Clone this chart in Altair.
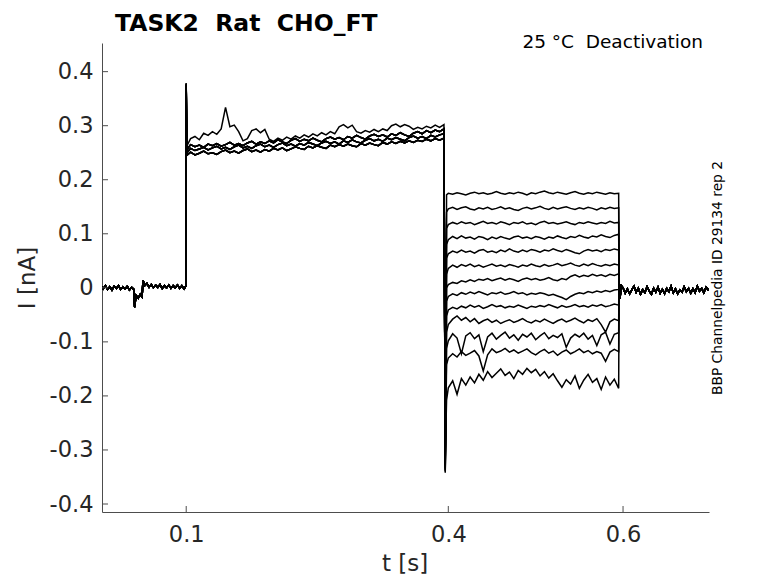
import altair as alt
import pandas as pd

# ---------------- data ----------------
# pre-step baseline (shared by all sweeps)
T0 = [0.0025, 0.005, 0.0075, 0.01, 0.0125, 0.015, 0.0175, 0.02, 0.0225, 0.025,
      0.0275, 0.03, 0.0325, 0.035, 0.0375, 0.04, 0.041, 0.0425, 0.045, 0.0475,
      0.0495, 0.0505, 0.0525, 0.055, 0.0575, 0.06, 0.0625, 0.065, 0.0675, 0.07,
      0.0725, 0.075, 0.0775, 0.08, 0.0825, 0.085, 0.0875, 0.09, 0.0925, 0.095,
      0.0975, 0.0995]
I0 = [.003, -.002, .004, -.003, .002, -.004, .003, -.001, .004, -.003,
      .002, -.002, .003, -.004, .001, -.003, -.036, -.014, -.019, -.012,
      -.017, .014, .004, .008, .001, .006, .000, .005, .001, .006,
      -.001, .004, .000, .005, -.001, .004, .000, .005, -.001, .004,
      -.002, .003]

# first voltage step (0.1 .. 0.396 s)
T1 = [0.1, 0.1006,
      .105, .11, .115, .12, .125, .13, .135, .14, .145, .15, .155, .16, .165, .17,
      .175, .18, .185, .19, .195, .2, .205, .21, .215, .22, .225, .23, .235, .24,
      .245, .25, .255, .26, .265, .27, .275, .28, .285, .29, .295, .3, .305, .31,
      .315, .32, .325, .33, .335, .34, .345, .35, .355, .36, .365, .37, .375, .38,
      .385, .39, .395]
HEAD1 = {"a": [.378, .245], "b": [.372, .250], "c": [.375, .255], "d": [.370, .262]}
STEP1 = {
    "a": [.251, .246, .249, .253, .248, .250, .247, .252, .255, .250,
          .253, .249, .254, .257, .252, .255, .251, .256, .253, .258,
          .255, .259, .254, .257, .261, .258, .256, .262, .259, .263,
          .260, .258, .264, .261, .265, .262, .266, .263, .261, .267,
          .264, .268, .265, .263, .269, .266, .270, .267, .271, .268,
          .272, .269, .273, .271, .275, .272, .276, .273, .277],
    "b": [.258, .254, .257, .260, .255, .259, .262, .257, .260, .256,
          .261, .264, .259, .262, .258, .263, .266, .261, .264, .260,
          .265, .268, .263, .266, .262, .267, .264, .269, .266, .263,
          .268, .271, .267, .270, .266, .272, .269, .274, .270, .268,
          .273, .276, .272, .275, .271, .277, .274, .278, .275, .272,
          .278, .281, .277, .280, .276, .282, .279, .283, .285],
    "c": [.265, .261, .264, .260, .266, .263, .267, .262, .265, .269,
          .264, .267, .263, .268, .271, .266, .270, .267, .272, .268,
          .274, .270, .267, .273, .276, .271, .275, .272, .277, .273,
          .270, .276, .279, .275, .278, .274, .280, .277, .282, .278,
          .275, .281, .284, .280, .283, .279, .285, .282, .287, .283,
          .280, .286, .289, .285, .291, .287, .292, .289, .294],
    "d": [.276, .280, .274, .286, .282, .289, .284, .294, .334, .298,
          .301, .289, .272, .276, .291, .294, .287, .293, .275, .271,
          .277, .273, .279, .275, .281, .277, .283, .279, .285, .281,
          .287, .283, .289, .285, .298, .302, .296, .301, .289, .286,
          .291, .288, .293, .289, .294, .291, .300, .303, .298, .302,
          .299, .293, .297, .294, .299, .296, .301, .297, .302],
}
VARIANT = ["a", "b", "c", "a", "d", "b", "c", "a", "b", "c", "a", "b", "c"]

# second (deactivation) step (0.396 .. 0.595 s)
T2 = [0.3965, 0.398,
      .4, .405, .41, .415, .42, .425, .43, .435, .44, .445, .45, .455, .46, .465,
      .47, .475, .48, .485, .49, .495, .5, .505, .51, .515, .52, .525, .53, .535,
      .54, .545, .55, .555, .56, .565, .57, .575, .58, .585, .59, .595]
SPIKE2 = [-.300, -.310, -.318, -.325, -.330, -.334, -.338, -.340, -.342, -.336, -.328, -.320, -.312]
STEP2 = [
    [.172, .175, .173, .176, .174, .172, .175, .177, .174, .176, .173, .175, .178, .175,
     .173, .176, .174, .177, .175, .172, .176, .174, .177, .179, .176, .174, .177, .175,
     .173, .176, .178, .175, .173, .176, .174, .177, .175, .173, .176, .174, .175],
    [.140, .146, .149, .145, .148, .150, .146, .144, .148, .146, .149, .145, .147, .150,
     .146, .148, .145, .143, .147, .149, .146, .148, .151, .147, .145, .149, .146, .148,
     .150, .147, .145, .148, .146, .149, .147, .144, .148, .146, .149, .147, .148],
    [.110, .117, .121, .118, .122, .119, .121, .117, .120, .123, .119, .121, .118, .122,
     .120, .117, .121, .119, .122, .118, .120, .117, .121, .123, .119, .121, .118, .120,
     .122, .119, .117, .121, .119, .122, .120, .118, .121, .119, .123, .120, .121],
    [.080, .089, .095, .091, .096, .092, .094, .090, .095, .093, .089, .094, .091, .095,
     .092, .090, .094, .096, .092, .094, .091, .095, .093, .090, .094, .092, .096, .093,
     .091, .095, .093, .097, .094, .092, .096, .094, .098, .095, .093, .097, .099],
    [.055, .063, .068, .065, .070, .066, .068, .064, .069, .071, .066, .068, .065, .070,
     .067, .072, .068, .066, .070, .067, .071, .069, .066, .070, .068, .072, .069, .067,
     .071, .068, .065, .063, .068, .071, .068, .070, .067, .071, .069, .072, .070],
    [.025, .036, .042, .038, .043, .040, .044, .039, .042, .038, .041, .044, .040, .042,
     .039, .043, .041, .038, .042, .040, .044, .041, .039, .043, .040, .042, .045, .041,
     .043, .046, .042, .040, .044, .041, .045, .042, .040, .043, .041, .044, .042],
    [.000, .006, .010, .008, .013, .011, .015, .012, .016, .014, .017, .013, .016, .018,
     .014, .017, .015, .012, .016, .018, .015, .017, .014, .016, .019, .015, .013, .017,
     .015, .021, .024, .020, .023, .021, .025, .022, .024, .021, .025, .023, .026],
    [-.025, -.016, -.011, -.014, -.009, -.012, -.008, -.011, -.007, -.010, -.013, -.009,
     -.011, -.008, -.012, -.010, -.007, -.011, -.009, -.013, -.010, -.012, -.009, -.011,
     -.014, -.012, -.015, -.018, -.022, -.016, -.012, -.009, -.011, -.007, -.009, -.006,
     -.008, -.005, -.007, -.004, -.003],
    [-.052, -.041, -.036, -.039, -.034, -.037, -.032, -.036, -.033, -.038, -.035, -.031,
     -.035, -.033, -.037, -.034, -.036, -.032, -.035, -.038, -.034, -.036, -.033, -.035,
     -.031, -.034, -.037, -.033, -.036, -.034, -.031, -.035, -.033, -.036, -.032, -.034,
     -.031, -.035, -.033, -.030, -.032],
    [-.082, -.068, -.058, -.052, -.060, -.055, -.063, -.057, -.066, -.061, -.058, -.064,
     -.060, -.066, -.062, -.059, -.064, -.061, -.057, -.062, -.065, -.060, -.063, -.058,
     -.062, -.066, -.061, -.058, -.063, -.060, -.056, -.061, -.065, -.059, -.062, -.057,
     -.068, -.082, -.063, -.058, -.061],
    [-.112, -.098, -.085, -.093, -.122, -.089, -.083, -.094, -.087, -.118, -.091, -.084,
     -.095, -.088, -.082, -.093, -.087, -.097, -.086, -.091, -.084, -.096, -.089, -.083,
     -.094, -.088, -.092, -.085, -.110, -.093, -.086, -.091, -.084, -.095, -.088, -.107,
     -.087, -.082, -.104, -.086, -.083],
    [-.142, -.130, -.122, -.128, -.118, -.125, -.121, -.116, -.126, -.154, -.124, -.113,
     -.120, -.117, -.112, -.119, -.115, -.121, -.117, -.113, -.120, -.124, -.118, -.114,
     -.121, -.117, -.125, -.119, -.115, -.122, -.118, -.113, -.120, -.116, -.122, -.118,
     -.121, -.136, -.119, -.114, -.118],
    [-.208, -.185, -.172, -.197, -.168, -.180, -.165, -.176, -.160, -.171, -.155, -.166,
     -.158, -.150, -.162, -.156, -.168, -.153, -.160, -.149, -.157, -.151, -.163, -.155,
     -.167, -.159, -.172, -.184, -.170, -.178, -.163, -.186, -.171, -.160, -.175, -.168,
     -.188, -.165, -.180, -.169, -.186],
]

# post-step (shared by all sweeps)
T3 = [0.5955, 0.5965, 0.598,
      .6, .6025, .605, .6075, .61, .6125, .615, .6175, .62, .6225, .625, .6275, .63,
      .6325, .635, .6375, .64, .6425, .645, .6475, .65, .6525, .655, .6575, .66,
      .6625, .665, .6675, .67, .6725, .675, .6775, .68, .6825, .685, .6875, .69,
      .6925, .695, .6975, 0.699]
I3 = [.012, -.020, .004,
      -.000, -.010, -.002, -.011, -.004, .003, -.008, -.001, -.012, -.003,
      -.009, .002, -.006, -.012, -.001, -.008, .001, -.010, -.003, -.011,
      -.001, -.007, .003, -.009, -.002, -.011, -.004, -.008, .002, -.007,
      -.001, -.010, -.002, -.009, .003, -.006, -.001, -.009, .001, -.004,
      -.002]

X_TICKS = [0.1, 0.4, 0.6]
Y_TICKS = [-0.4, -0.3, -0.2, -0.1, 0.0, 0.1, 0.2, 0.3, 0.4]

NB = "\u00a0"
TITLE = "TASK2" + NB * 2 + "Rat" + NB * 2 + "CHO_FT"
COND = "25" + NB + "°C" + NB * 2 + "Deactivation"
SIDE = "BBP Channelpedia ID 29134 rep 2"

rows = []
for i in range(len(STEP2)):
    var = VARIANT[i]
    ts = T0 + T1 + T2 + T3
    vs = I0 + HEAD1[var] + STEP1[var] + [SPIKE2[i]] + STEP2[i] + I3
    for k, (t, v) in enumerate(zip(ts, vs)):
        rows.append({"trace": i, "k": k, "t": t, "I": v})
df = pd.DataFrame(rows)

# ---------------- chart ----------------
W, H = 607, 469
FONT = "DejaVu Sans"
AX_COLOR = "#4d4d4d"
LAB_COLOR = "#262626"

xs = alt.Scale(domain=[0.0036, 0.6984], nice=False, zero=False)
ys = alt.Scale(domain=[-0.4148, 0.453], nice=False, zero=False)

LBL = "datum.value < 0 ? '-' + format(-datum.value, '.1~f') : format(datum.value, '.1~f')"
ax_x = alt.Axis(values=X_TICKS, title=None, grid=False, ticks=False, tickSize=0,
                labelExpr=LBL, labelFont=FONT, labelFontSize=22.5, labelColor=LAB_COLOR,
                labelPadding=11, domainColor=AX_COLOR, domainWidth=1, labelFlush=False)
ax_y = alt.Axis(values=Y_TICKS, title=None, grid=False, ticks=False, tickSize=0,
                labelExpr=LBL, labelFont=FONT, labelFontSize=22.5, labelColor=LAB_COLOR,
                labelPadding=9, domainColor=AX_COLOR, domainWidth=1, labelFlush=False)

lines = alt.Chart(df).mark_line(color="black", strokeWidth=1.5, clip=True).encode(
    x=alt.X("t:Q", scale=xs, axis=ax_x),
    y=alt.Y("I:Q", scale=ys, axis=ax_y),
    detail="trace:N",
    order="k:Q",
)

yticks = alt.Chart(pd.DataFrame({"I": Y_TICKS})).mark_rule(color=AX_COLOR, strokeWidth=1).encode(
    y=alt.Y("I:Q", scale=ys, axis=ax_y), x=alt.value(0), x2=alt.value(6))
xticks = alt.Chart(pd.DataFrame({"t": X_TICKS})).mark_rule(color=AX_COLOR, strokeWidth=1).encode(
    x=alt.X("t:Q", scale=xs, axis=ax_x), y=alt.value(H), y2=alt.value(H - 6))


def label(s, x, y, size, weight="normal", align="left", angle=0, baseline="alphabetic", color="black"):
    return alt.Chart(pd.DataFrame({"s": [s]})).mark_text(
        align=align, baseline=baseline, fontSize=size, fontWeight=weight,
        font=FONT, angle=angle, color=color,
    ).encode(x=alt.value(x), y=alt.value(y), text="s:N")


title = label(TITLE, 13, -12, 23.5, weight="bold")
cond = label(COND, 601, 5, 18.5, align="right")
side = label(SIDE, 616, 235, 13.8, align="center", angle=270, baseline="middle")
ytitle = label("I [nA]", -74, 235, 23, align="center", angle=270, baseline="middle",
               color=LAB_COLOR)
xtitle = label("t [s]", 303, 528, 23, align="center", color=LAB_COLOR)

chart = alt.layer(lines, yticks, xticks, title, cond, side, ytitle, xtitle).properties(
    width=W, height=H,
    autosize=alt.AutoSizeParams(type="none"),
    padding={"left": 94, "top": 35, "right": 60, "bottom": 63},
).configure_view(strokeWidth=0)

chart.save("out.html", embed_options={"renderer": "svg", "actions": False})
